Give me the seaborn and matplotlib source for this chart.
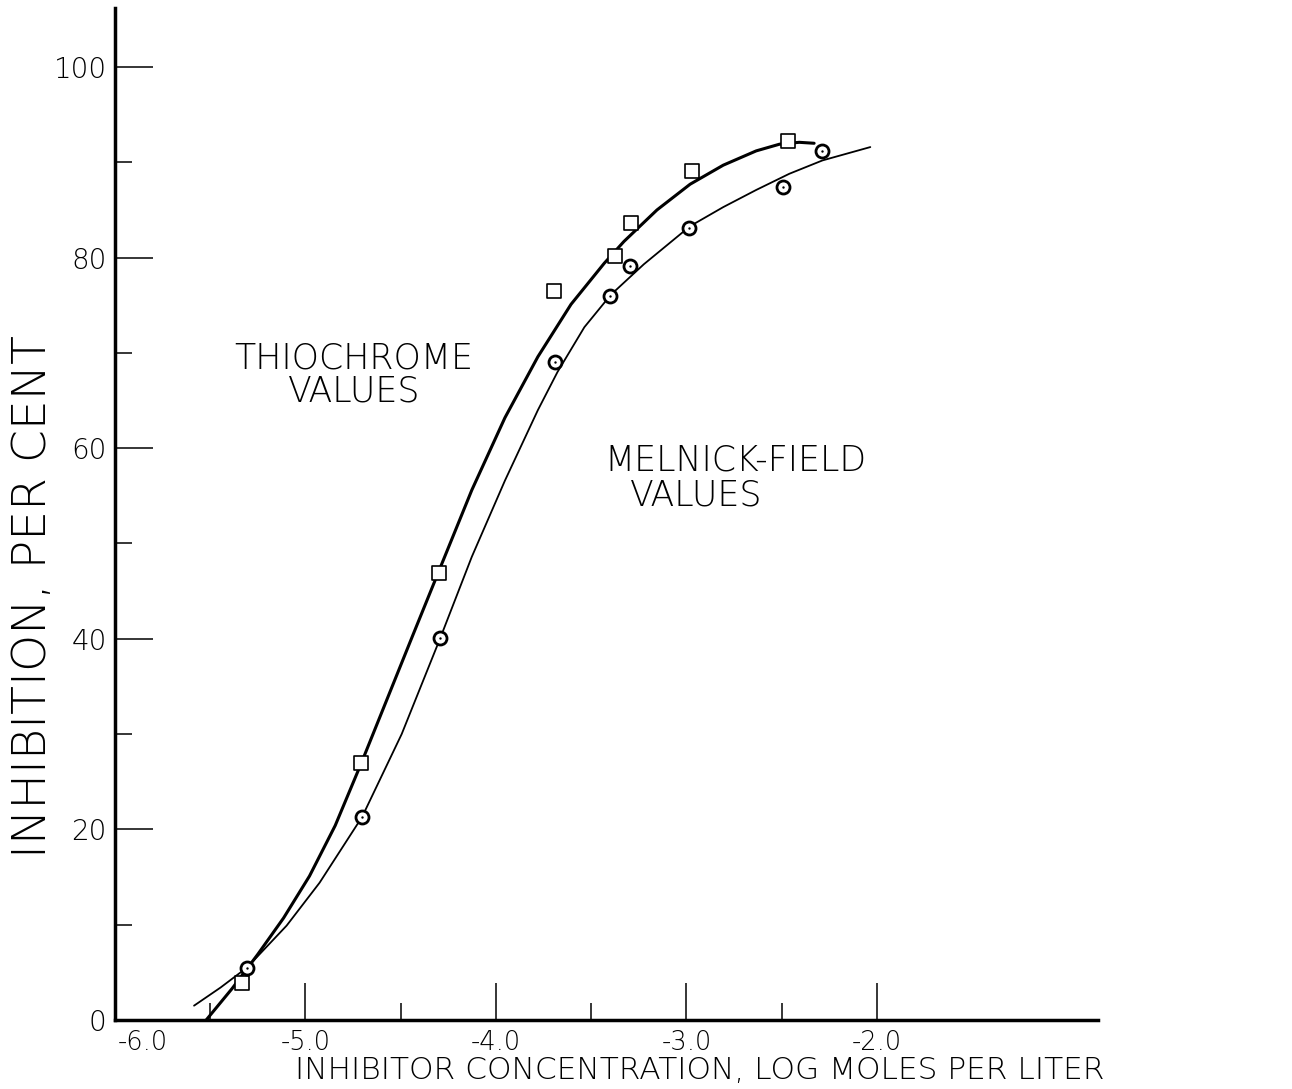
import matplotlib
matplotlib.use("Agg")
import matplotlib.pyplot as plt
import matplotlib.transforms as mtransforms
import numpy as np
import pandas as pd
import seaborn as sns

# ---------------- data ----------------
thio_x = [-5.333, -4.708, -4.300, -3.693, -3.377, -3.290, -2.972, -2.469]
thio_y = [3.9, 27.0, 46.9, 76.5, 80.2, 83.6, 89.1, 92.2]

mf_x = [-5.307, -4.703, -4.292, -3.688, -3.400, -3.297, -2.986, -2.491, -2.290]
mf_y = [5.5, 21.3, 40.1, 69.0, 76.0, 79.1, 83.1, 87.4, 91.2]

thio_curve_x = [-5.521, -5.385, -5.250, -5.115, -4.979, -4.844, -4.708, -4.573,
                -4.438, -4.302, -4.127, -3.953, -3.780, -3.606, -3.432, -3.328,
                -3.155, -2.981, -2.807, -2.634, -2.512, -2.408, -2.330]
thio_curve_y = [0.0, 3.3, 6.9, 10.7, 15.1, 20.4, 26.9, 33.6,
                40.3, 47.0, 55.6, 63.2, 69.6, 75.1, 79.4, 81.7,
                85.0, 87.7, 89.7, 91.2, 91.9, 92.1, 92.0]

mf_curve_x = [-5.585, -5.446, -5.307, -5.099, -4.926, -4.703, -4.495, -4.292,
              -4.127, -3.953, -3.780, -3.677, -3.536, -3.397, -3.224, -2.981,
              -2.807, -2.634, -2.460, -2.286, -2.035]
mf_curve_y = [1.5, 3.4, 5.5, 9.9, 14.4, 21.3, 30.0, 40.1,
              48.6, 56.6, 64.0, 68.0, 72.7, 76.1, 79.3, 83.3,
              85.3, 87.1, 88.8, 90.2, 91.6]

x_ticks = [-6.0, -5.0, -4.0, -3.0, -2.0]
x_tick_labels = ["-6.0", "-5.0", "-4.0", "-3.0", "-2.0"]
x_minor = [-5.5, -4.5, -3.5, -2.5]
y_ticks = [0, 20, 40, 60, 80, 100]
y_tick_labels = ["0", "20", "40", "60", "80", "100"]
y_minor = [10, 30, 50, 70, 90]

x_label = "INHIBITOR CONCENTRATION, LOG MOLES PER LITER"
y_label = "INHIBITION, PER CENT"
thio_label = "THIOCHROME\nVALUES"
mf_label_1 = "MELNICK-FIELD"
mf_label_2 = "VALUES"

# ---------------- style ----------------
sns.set_style("white")
plt.rcParams["font.family"] = ["DejaVu Sans"]
plt.rcParams["font.weight"] = "light"
for key in ["text.color", "axes.labelcolor", "xtick.color", "ytick.color",
            "axes.edgecolor"]:
    plt.rcParams[key] = "black"

fig = plt.figure(figsize=(12.92, 10.89), dpi=100)
ax = fig.add_axes([0.0890, 0.0634, 0.7608, 0.9293])

thio_curve = pd.DataFrame({"x": thio_curve_x, "y": thio_curve_y})
mf_curve = pd.DataFrame({"x": mf_curve_x, "y": mf_curve_y})

sns.lineplot(data=thio_curve, x="x", y="y", sort=False, estimator=None,
             color="black", linewidth=2.2, ax=ax, zorder=2)
sns.lineplot(data=mf_curve, x="x", y="y", sort=False, estimator=None,
             color="black", linewidth=1.3, ax=ax, zorder=2)

sns.scatterplot(x=thio_x, y=thio_y, marker="s", s=105, facecolor="white",
                edgecolor="black", linewidth=1.2, ax=ax, zorder=4)
sns.scatterplot(x=mf_x, y=mf_y, marker="o", s=88, facecolor="white",
                edgecolor="black", linewidth=2.0, ax=ax, zorder=4)
sns.scatterplot(x=mf_x, y=mf_y, marker="o", s=3, color="black",
                linewidth=0, ax=ax, zorder=5)

ax.set_xlim(-5.96, -0.84)
ax.set_ylim(0, 106.2)

for side in ["top", "right"]:
    ax.spines[side].set_visible(False)
for side in ["left", "bottom"]:
    ax.spines[side].set_linewidth(2.5)
    ax.spines[side].set_color("black")

ax.set_xticks(x_ticks)
ax.set_xticklabels(x_tick_labels, fontweight="light")
ax.set_xticks(x_minor, minor=True)
ax.set_yticks(y_ticks)
ax.set_yticklabels(y_tick_labels, fontweight="light")
ax.set_yticks(y_minor, minor=True)

ax.tick_params(axis="both", which="both", direction="in", bottom=True,
               left=True, top=False, right=False, color="black", width=1.1,
               labelcolor="black")
ax.tick_params(axis="both", which="major", length=27)
ax.tick_params(axis="both", which="minor", length=12.5)
ax.tick_params(axis="x", which="major", pad=7, labelsize=18.5)
ax.tick_params(axis="y", which="major", pad=6, labelsize=20)

# the hand-lettered "-6.0" sits to the right of the axis corner
first = ax.xaxis.get_major_ticks()[0].label1
first.set_transform(first.get_transform() +
                    mtransforms.ScaledTranslation(0.28, 0, fig.dpi_scale_trans))

ax.set_xlabel(x_label, fontsize=22.5, fontweight="light", color="black")
ax.xaxis.set_label_coords(0.595, -0.0356)
ax.set_ylabel(y_label, fontsize=34, fontweight="light", color="black")
ax.yaxis.set_label_coords(-0.061, 0.418)

ax.text(-4.745, 67.7, thio_label, ha="center", va="center", fontsize=25,
        fontweight="light", linespacing=0.97, color="black")
ax.text(-2.745, 58.7, mf_label_1, ha="center", va="center", fontsize=25,
        fontweight="light", color="black")
ax.text(-2.948, 55.0, mf_label_2, ha="center", va="center", fontsize=25,
        fontweight="light", color="black")

ax.set_facecolor("white")
fig.patch.set_facecolor("white")
fig.savefig("out.png", dpi=100)
